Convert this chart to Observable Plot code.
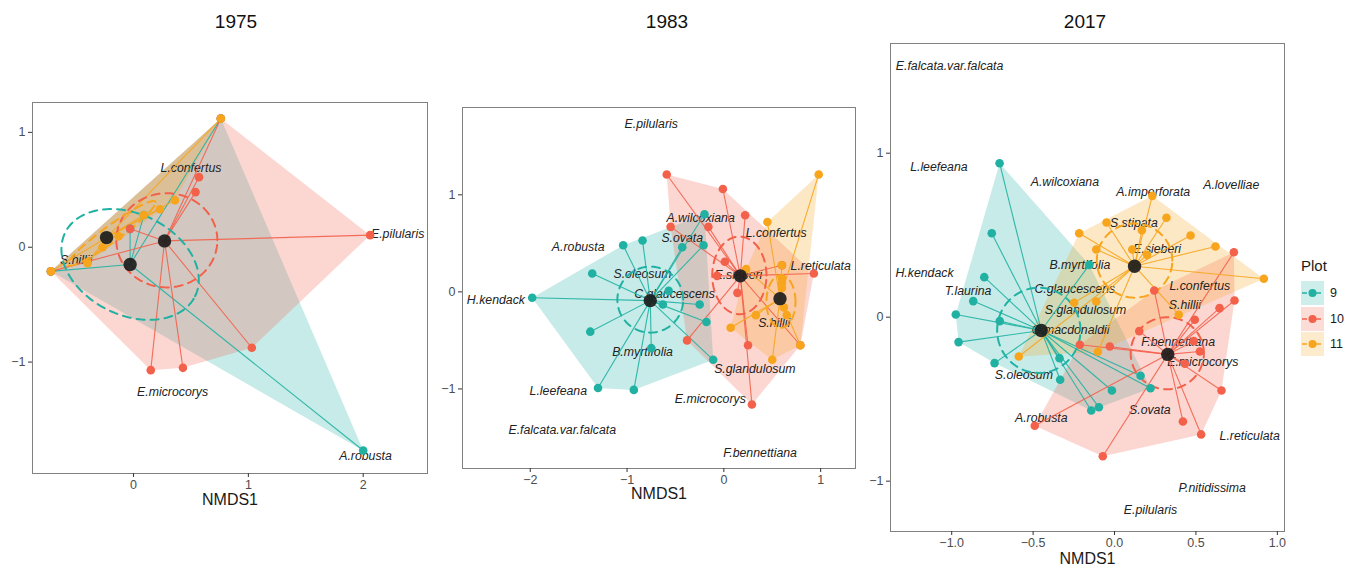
<!DOCTYPE html>
<html><head><meta charset="utf-8">
<script src="https://cdn.jsdelivr.net/npm/d3@7"></script>
<script src="https://cdn.jsdelivr.net/npm/@observablehq/plot@0.6"></script>
<style>
body{margin:0;background:#fff;font-family:"Liberation Sans",Arial,sans-serif;}
#root{position:relative;width:1354px;height:568px;overflow:hidden;background:#fff;}
.panel{position:absolute;top:0;}
.title{position:absolute;top:11px;line-height:22px;font-size:19px;color:#111;transform:translateX(-50%);}
#legend{position:absolute;left:1296px;top:250px;}
</style></head><body><div id="root"></div>
<script>
// ---- shared ----
const groups = ["9", "10", "11"];
const colors = ["#20b1a3", "#f3614b", "#f6a51d"];
const years = ["1975", "1983", "2017"];

// ---- 1975 : sites per plot [NMDS1, NMDS2] ----
const s1975_9  = [[2.00,-1.77],[0.76,1.12],[-0.72,-0.21],[0.09,0.28],[-0.03,0.16]];
const s1975_10 = [[2.06,0.105],[1.03,-0.875],[0.15,-1.07],[0.43,-1.05],[0.57,0.61],[0.54,0.48],[-0.03,0.16],[0.76,1.12],[-0.72,-0.21]];
const s1975_11 = [[-0.72,-0.21],[0.76,1.12],[-0.40,-0.14],[-0.27,0.0],[-0.13,0.095],[0.09,0.28],[0.23,0.33],[0.36,0.41]];
const c1975 = [[-0.03,-0.15],[0.27,0.055],[-0.235,0.084]];          // centroids 9,10,11
const e1975 = [[-0.03,-0.15,0.63,0.44,-26],[0.29,0.06,0.44,0.41,0],[-0.19,0.12,0.47,0.07,36]]; // cx,cy,rx,ry,angle
const sp1975 = [["L.confertus",0.50,0.69],["E.pilularis",2.30,0.115],["S.hillii",-0.50,-0.11],["E.microcorys",0.34,-1.26],["A.robusta",2.02,-1.82]];

// ---- 1983 ----
const s1983_9  = [[-1.98,-0.06],[-1.36,0.19],[-1.38,-0.41],[-1.30,-0.99],[-0.93,-1.01],[-0.75,-0.58],[-1.04,0.48],[-0.84,0.53],[-0.57,0.01],[-0.63,-0.13],[-0.43,0.46],[-0.21,0.48],[-0.20,0.80],[-0.25,-0.13],[-0.18,-0.31],[-0.11,-0.70]];
const s1983_10 = [[-0.59,1.21],[-0.01,1.06],[0.22,0.79],[-0.55,0.67],[-0.16,0.67],[0.01,0.31],[-0.07,0.165],[0.14,-0.01],[-0.38,-0.50],[0.25,-0.55],[0.29,-1.16],[0.93,0.19],[0.79,-0.55],[0.60,0.275]];
const s1983_11 = [[0.98,1.21],[0.45,0.72],[0.23,0.235],[0.60,0.275],[0.60,0.14],[0.60,0.09],[0.60,0.04],[0.62,-0.16],[0.33,-0.24],[0.07,-0.37],[0.50,-0.70],[0.79,-0.55],[0.65,-0.24]];
const c1983 = [[-0.76,-0.09],[0.17,0.165],[0.58,-0.07]];
const e1983 = [[-0.76,-0.08,0.34,0.34,0],[0.16,0.17,0.28,0.40,0],[0.59,-0.10,0.15,0.27,0]];
const sp1983 = [["E.pilularis",-0.75,1.73],["A.wilcoxiana",-0.24,0.76],["S.ovata",-0.43,0.55],["A.robusta",-1.505,0.457],["L.confertus",0.54,0.605],["L.reticulata",1.00,0.27],["S.oleosum",-0.84,0.18],["E.sieberi",0.15,0.175],["C.glaucescens",-0.51,-0.02],["H.kendack",-2.355,-0.086],["S.hillii",0.52,-0.32],["B.myrtifolia",-0.84,-0.625],["S.glandulosum",0.32,-0.80],["L.leefeana",-1.71,-1.02],["E.microcorys",-0.14,-1.10],["E.falcata.var.falcata",-1.67,-1.42],["F.bennettiana",0.375,-1.66]];

// ---- 2017 ----
const s2017_9  = [[-0.706,0.939],[-0.754,0.512],[-0.80,0.244],[-0.868,0.098],[-0.975,0.016],[-0.705,-0.024],[-0.958,-0.152],[-0.737,-0.28],[-0.155,0.319],[-0.338,-0.25],[-0.334,-0.382],[-0.143,-0.569],[-0.096,-0.549],[-0.016,-0.447],[0.16,-0.357],[0.221,-0.433]];
const s2017_10 = [[0.733,0.396],[0.737,0.102],[0.645,0.055],[0.244,0.163],[0.493,-0.016],[0.152,-0.085],[0.487,-0.146],[0.524,-0.209],[0.432,-0.284],[-0.213,-0.168],[-0.029,-0.179],[0.657,-0.447],[0.42,-0.636],[0.532,-0.715],[-0.072,-0.848],[-0.49,-0.662]];
const s2017_11 = [[0.232,0.74],[0.319,0.606],[-0.049,0.577],[0.168,0.53],[-0.217,0.512],[0.467,0.498],[-0.112,0.413],[0.109,0.413],[0.20,0.38],[0.62,0.431],[0.917,0.234],[-0.248,0.088],[-0.112,0.096],[0.395,0.015],[-0.102,-0.211],[-0.588,-0.24]];
const c2017 = [[-0.45,-0.081],[0.327,-0.227],[0.123,0.311]];
const e2017 = [[-0.465,-0.08,0.256,0.26,0],[0.324,-0.22,0.225,0.22,0],[0.123,0.345,0.232,0.226,0]];
const sp2017 = [["E.falcata.var.falcata",-1.013,1.529],["L.leefeana",-1.079,0.915],["A.wilcoxiana",-0.305,0.827],["A.imperforata",0.238,0.766],["A.lovelliae",0.717,0.807],["S.stipata",0.119,0.577],["E.sieberi",0.262,0.417],["B.myrtifolia",-0.213,0.319],["H.kendack",-1.167,0.272],["L.confertus",0.524,0.189],["T.laurina",-0.90,0.157],["C.glaucescens",-0.244,0.173],["S.hillii",0.432,0.071],["S.glandulosum",-0.178,0.041],["C.macdonaldii",-0.27,-0.081],["F.bennettiana",0.391,-0.154],["E.microcorys",0.542,-0.274],["S.oleosum",-0.557,-0.351],["S.ovata",0.217,-0.565],["A.robusta",-0.45,-0.616],["L.reticulata",0.83,-0.727],["P.nitidissima",0.60,-1.04],["E.pilularis",0.221,-1.179]];

// ---- axis ticks ----
const xt1975 = [0, 1, 2], yt1975 = [-1, 0, 1];
const xt1983 = [-2, -1, 0, 1], yt1983 = [-1, 0, 1];
const xt2017 = [-1, -0.5, 0, 0.5, 1], yt2017 = [-1, 0, 1];

const root = document.getElementById("root");

function panel(cfg) {
  const sites = [];
  cfg.sites.forEach((arr, i) => arr.forEach(([x, y]) => sites.push({g: groups[i], x, y, cx: cfg.cent[i][0], cy: cfg.cent[i][1]})));
  const cents = cfg.cent.map(([x, y], i) => ({g: groups[i], x, y}));
  const ell = [];
  cfg.ell.forEach(([cx, cy, rx, ry, ang], i) => {
    const a = ang * Math.PI / 180;
    for (let k = 0; k <= 120; k++) {
      const t = k / 120 * 2 * Math.PI;
      ell.push({g: groups[i],
        x: cx + rx * Math.cos(t) * Math.cos(a) - ry * Math.sin(t) * Math.sin(a),
        y: cy + rx * Math.cos(t) * Math.sin(a) + ry * Math.sin(t) * Math.cos(a)});
    }
  });
  const species = cfg.species.map(([name, x, y]) => ({name, x, y}));
  const p = Plot.plot({
    width: cfg.width, height: cfg.height,
    marginLeft: cfg.m[0], marginRight: cfg.m[1], marginTop: cfg.m[2], marginBottom: cfg.m[3],
    style: {background: "transparent", overflow: "visible", fontFamily: "'Liberation Sans', Arial, sans-serif", fontSize: "12.5px"},
    x: {domain: cfg.xd},
    y: {domain: cfg.yd},
    color: {domain: groups, range: colors},
    marks: [
      Plot.hull(sites, {x: "x", y: "y", z: "g", fill: "g", fillOpacity: 0.25, stroke: "none"}),
      Plot.text(species, {x: "x", y: "y", text: "name", fontStyle: "italic", fontSize: 12.3, fill: "#222"}),
      Plot.link(sites, {x1: "cx", y1: "cy", x2: "x", y2: "y", stroke: "g", strokeWidth: 1.1, strokeOpacity: 0.9}),
      Plot.line(ell, {x: "x", y: "y", z: "g", stroke: "g", strokeWidth: 2, strokeDasharray: "8,6"}),
      Plot.dot(sites, {x: "x", y: "y", fill: "g", r: 4.3}),
      Plot.dot(cents, {x: "x", y: "y", r: 6.7, fill: "#1c1c1c", fillOpacity: 0.92}),
      Plot.frame({stroke: "#808080"}),
      Plot.axisX({ticks: cfg.xt, tickFormat: cfg.xf, tickSize: 4, tickPadding: 3, label: null, stroke: "#333", fill: "#4d4d4d", fontSize: 12.5}),
      Plot.axisY({ticks: cfg.yt, tickFormat: d3.format("d"), tickSize: 4, tickPadding: 3, label: null, stroke: "#333", fill: "#4d4d4d", fontSize: 12.5}),
      Plot.text(["NMDS1"], {text: d => d, frameAnchor: "bottom", dy: cfg.labDy, fontSize: 16, fill: "#1a1a1a"})
    ]
  });
  p.classList.add("panel");
  p.style.left = cfg.left + "px";
  root.appendChild(p);
  const t = document.createElement("div");
  t.className = "title";
  t.style.left = cfg.titleX + "px";
  t.textContent = cfg.title;
  root.appendChild(t);
}

panel({title: years[0], titleX: 236, left: 0, width: 440, height: 520, m: [32, 13, 102, 47],
  xd: [-0.88, 2.56], yd: [-1.97, 1.26], xt: xt1975, yt: yt1975, xf: d3.format("d"), labDy: 31,
  sites: [s1975_9, s1975_10, s1975_11], cent: c1975, ell: e1975, species: sp1975});
panel({title: years[1], titleX: 667, left: 440, width: 430, height: 520, m: [22, 15, 107, 52],
  xd: [-2.70, 1.36], yd: [-1.82, 1.90], xt: xt1983, yt: yt1983, xf: d3.format("d"), labDy: 30,
  sites: [s1983_9, s1983_10, s1983_11], cent: c1983, ell: e1983, species: sp1983});
panel({title: years[2], titleX: 1085, left: 870, width: 484, height: 568, m: [20, 70, 43, 37],
  xd: [-1.376, 1.044], yd: [-1.307, 1.669], xt: xt2017, yt: yt2017, xf: d3.format(".1f"), labDy: 32,
  sites: [s2017_9, s2017_10, s2017_11], cent: c2017, ell: e2017, species: sp2017});

// ---- legend ----
const lg = d3.create("svg").attr("id", "legend").attr("width", 58).attr("height", 110)
  .style("font-family", "'Liberation Sans', Arial, sans-serif");
lg.append("text").attr("x", 5).attr("y", 16).attr("dy", "0.35em").attr("font-size", 15).attr("fill", "#1a1a1a").text("Plot");
groups.forEach((g, i) => {
  const cy = [43, 69, 94][i];
  lg.append("rect").attr("x", 5).attr("y", cy - 12).attr("width", 23).attr("height", 24).attr("fill", colors[i]).attr("fill-opacity", 0.22);
  lg.append("line").attr("x1", 6).attr("x2", 27).attr("y1", cy).attr("y2", cy).attr("stroke", colors[i]).attr("stroke-width", 1.6).attr("stroke-dasharray", "5,2");
  lg.append("circle").attr("cx", 16.5).attr("cy", cy).attr("r", 4).attr("fill", colors[i]);
  lg.append("text").attr("x", 34).attr("y", cy).attr("dy", "0.35em").attr("font-size", 12.5).attr("fill", "#1a1a1a").text(g);
});
root.appendChild(lg.node());
</script></body></html>
